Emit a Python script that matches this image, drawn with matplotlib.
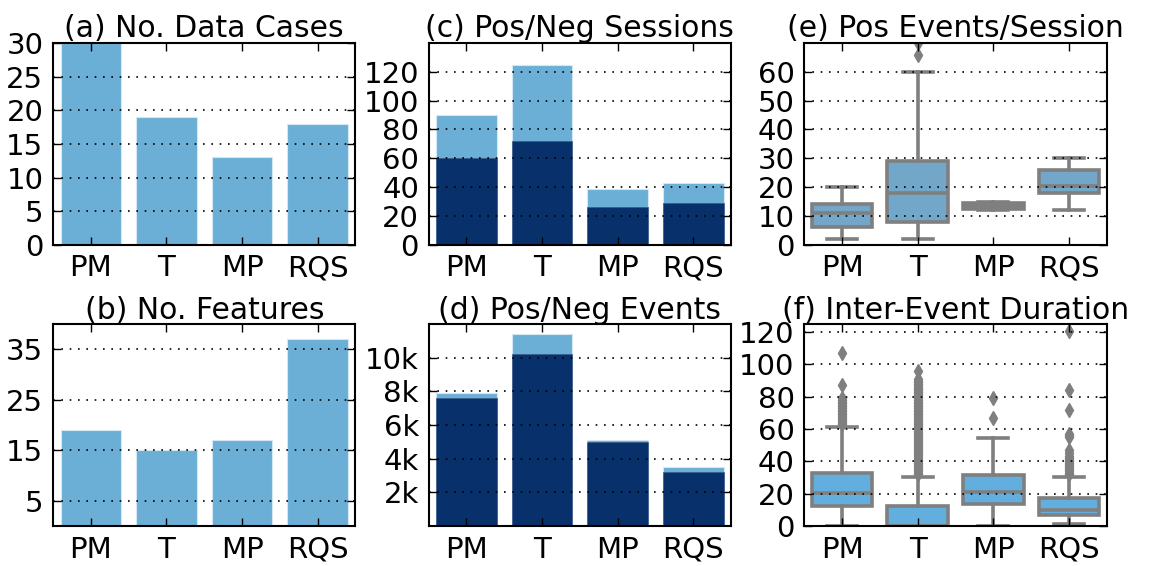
import matplotlib
matplotlib.use('Agg')
from matplotlib import pyplot as plt

cats = ['PM', 'T', 'MP', 'RQS']

# (a) and (b)
data_cases = [30, 19, 13, 18]
n_features = [19, 15, 17, 37]

# (c) sessions: total and the dark (bottom) part
sess_total = [90, 125, 39, 43]
sess_dark = [60, 72, 26, 29]

# (d) events
evt_total = [7880, 11420, 5130, 3490]
evt_dark = [7620, 10230, 4970, 3190]
evt_ticks = [2000, 4000, 6000, 8000, 10000]
evt_labels = ['2k', '4k', '6k', '8k', '10k']

# (e) pos events per session: box stats
e_q1 = [6, 8, 12.5, 18]
e_med = [11, 18, 13.5, 20.5]
e_q3 = [14, 29, 14.5, 26]
e_lo = [2, 2, 12, 12]
e_hi = [20, 60, 15, 30]
e_fliers = [[], [66, 70], [], []]

# (f) inter-event duration: box stats
f_q1 = [12.5, 0, 13.5, 7]
f_med = [20.5, 0, 21, 10]
f_q3 = [33, 12, 31.5, 17.5]
f_lo = [0, 0, 0, 1]
f_hi = [61, 30, 54.5, 30]
f_fliers = [
    [63, 64, 65, 66, 67, 68, 69, 70, 71, 72, 73, 74, 75, 76, 77, 78, 79, 87, 107],
    [32, 33, 34, 35, 36, 37, 38, 39, 40, 41, 42, 43, 44, 45, 46, 47, 48, 49, 50,
     51, 52, 53, 54, 55, 56, 57, 58, 59, 60, 61, 62, 63, 64, 65, 66, 67, 68, 69,
     70, 71, 72, 73, 74, 75, 76, 77, 78, 79, 80, 81, 82, 83, 84, 85, 86, 87, 88,
     89, 90, 91, 96],
    [67, 79],
    [32, 33, 34, 35, 36, 37, 38, 39, 40, 41, 42, 43, 45, 47, 55, 56, 57, 72, 84, 121],
]

light = '#6baed6'
dark = '#08306b'
gray = '#7f7f7f'

plt.rcParams['font.family'] = 'DejaVu Sans'
plt.rcParams['xtick.labelsize'] = 21
plt.rcParams['ytick.labelsize'] = 21

fig, axes = plt.subplots(2, 3, figsize=(11.54, 5.66), dpi=100)
fig.subplots_adjust(left=0.046, right=0.959, top=0.924, bottom=0.071,
                    wspace=0.242, hspace=0.393)
x = list(range(len(cats)))


def style(ax, title):
    ax.set_title(title, fontsize=21.5, pad=4)
    ax.set_xlim(-0.5, 3.5)
    ax.set_xticks(x)
    ax.set_xticklabels(cats)
    ax.tick_params(direction='in', top=True, right=True, length=6, width=1,
                   pad=7)
    ax.yaxis.grid(True, linestyle=(0, (1, 4)), color='black', linewidth=1.2)
    ax.set_axisbelow(False)
    for s in ax.spines.values():
        s.set_linewidth(1.5)
        s.set_zorder(5)


ax = axes[0, 0]
ax.bar(x, data_cases, width=0.8, color=light, edgecolor='#d4e8f4', linewidth=0.8, zorder=1)
ax.set_ylim(0, 30)
ax.set_yticks([0, 5, 10, 15, 20, 25, 30])
style(ax, '(a) No. Data Cases')

ax = axes[1, 0]
ax.bar(x, n_features, width=0.8, color=light, edgecolor='#d4e8f4', linewidth=0.8, zorder=1)
ax.set_ylim(0, 40)
ax.set_yticks([5, 15, 25, 35])
style(ax, '(b) No. Features')

ax = axes[0, 1]
ax.bar(x, sess_total, width=0.8, color=light, edgecolor='#d4e8f4', linewidth=0.8, zorder=1)
ax.bar(x, sess_dark, width=0.8, color=dark, edgecolor='#3a5a8a', linewidth=0.5, zorder=1)
ax.set_ylim(0, 140)
ax.set_yticks([0, 20, 40, 60, 80, 100, 120])
style(ax, '(c) Pos/Neg Sessions')

ax = axes[1, 1]
ax.bar(x, evt_total, width=0.8, color=light, edgecolor='#d4e8f4', linewidth=0.8, zorder=1)
ax.bar(x, evt_dark, width=0.8, color=dark, edgecolor='#3a5a8a', linewidth=0.5, zorder=1)
ax.set_ylim(0, 12000)
ax.set_yticks(evt_ticks)
ax.set_yticklabels(evt_labels)
style(ax, '(d) Pos/Neg Events')


def boxes(ax, q1, med, q3, lo, hi, fliers, face):
    stats = []
    for i in range(len(cats)):
        stats.append({'q1': q1[i], 'med': med[i], 'q3': q3[i],
                      'whislo': lo[i], 'whishi': hi[i], 'fliers': fliers[i]})
    lw = 2.6
    ax.bxp(stats, positions=x, widths=0.8, capwidths=0.4, patch_artist=True,
           boxprops=dict(facecolor=face, edgecolor=gray, linewidth=lw),
           medianprops=dict(color=gray, linewidth=lw),
           whiskerprops=dict(color=gray, linewidth=lw),
           capprops=dict(color=gray, linewidth=lw),
           flierprops=dict(marker='d', markerfacecolor=gray, markeredgecolor=gray,
                           markersize=7),
           manage_ticks=False, zorder=2)


ax = axes[0, 2]
boxes(ax, e_q1, e_med, e_q3, e_lo, e_hi, e_fliers, '#72a7c9')
ax.set_ylim(0, 70)
ax.set_yticks([0, 10, 20, 30, 40, 50, 60])
style(ax, '(e) Pos Events/Session')

ax = axes[1, 2]
boxes(ax, f_q1, f_med, f_q3, f_lo, f_hi, f_fliers, '#62aedf')
ax.set_ylim(0, 125)
ax.set_yticks([0, 20, 40, 60, 80, 100, 120])
style(ax, '(f) Inter-Event Duration')

fig.savefig('out.png', dpi=100)
